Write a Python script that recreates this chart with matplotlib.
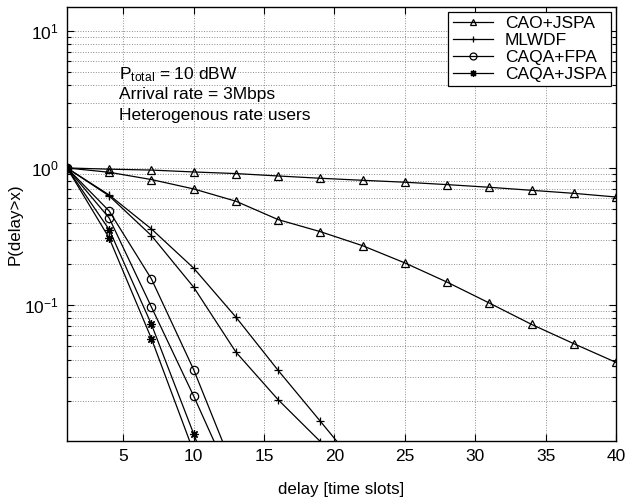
import matplotlib
matplotlib.use("Agg")

import matplotlib.pyplot as plt
from matplotlib.lines import Line2D
from matplotlib.ticker import LogLocator, NullFormatter

plt.rcParams["font.family"] = ["Liberation Sans", "DejaVu Sans"]
plt.rcParams["mathtext.fontset"] = "custom"
plt.rcParams["mathtext.rm"] = "Liberation Sans"
plt.rcParams["mathtext.it"] = "Liberation Sans:italic"

# delay points where markers are drawn (time slots)
delay_cao = [1, 4, 7, 10, 13, 16, 19, 22, 25, 28, 31, 34, 37, 40]
delay_mlwdf = [1, 4, 7, 10, 13, 16, 19, 22]
delay_caqa = [1, 4, 7, 10, 13]

# P(delay > x), two user classes per scheme
cao_jspa_a = [1.0, 0.98, 0.965, 0.935, 0.91, 0.874, 0.841, 0.813, 0.787,
              0.756, 0.723, 0.687, 0.653, 0.614]
cao_jspa_b = [1.0, 0.93, 0.823, 0.703, 0.572, 0.420, 0.343, 0.271, 0.203,
              0.147, 0.1035, 0.0723, 0.0523, 0.0382]
mlwdf_a = [1.0, 0.635, 0.359, 0.186, 0.0817, 0.0334, 0.0142, 0.006]
mlwdf_b = [1.0, 0.625, 0.321, 0.135, 0.0454, 0.0204, 0.0101, 0.0047]
caqa_fpa_a = [1.0, 0.485, 0.155, 0.0338, 0.0058]
caqa_fpa_b = [1.0, 0.431, 0.0967, 0.0217, 0.0045]
caqa_jspa_a = [1.0, 0.355, 0.0723, 0.0115, 0.0018]
caqa_jspa_b = [1.0, 0.308, 0.0569, 0.0085, 0.0013]

legend_labels = ["CAO+JSPA", "MLWDF", "CAQA+FPA", "CAQA+JSPA"]
x_ticks = [5, 10, 15, 20, 25, 30, 35, 40]
y_ticks = [1e-1, 1e0, 1e1]

ASTERISK = (8, 2, 0)
FS = 12.5


def main() -> None:
    fig = plt.figure(figsize=(6.44, 5.04), dpi=100)
    ax = fig.add_axes([0.104, 0.125, 0.8525, 0.8617])

    style = dict(color="black", linewidth=0.9, markersize=6,
                 markerfacecolor="none", markeredgewidth=0.9)

    series = [
        (delay_cao, cao_jspa_a, "^"),
        (delay_cao, cao_jspa_b, "^"),
        (delay_mlwdf, mlwdf_a, "+"),
        (delay_mlwdf, mlwdf_b, "+"),
        (delay_caqa, caqa_fpa_a, "o"),
        (delay_caqa, caqa_fpa_b, "o"),
        (delay_caqa, caqa_jspa_a, ASTERISK),
        (delay_caqa, caqa_jspa_b, ASTERISK),
    ]
    for x, y, m in series:
        ax.plot(x, y, marker=m, **style)

    ax.set_yscale("log")
    ax.set_xlim(1, 40)
    ax.set_ylim(0.0102, 15)
    ax.set_xticks(x_ticks)
    ax.set_yticks(y_ticks)
    ax.yaxis.set_minor_locator(LogLocator(base=10, subs=range(2, 10)))
    ax.yaxis.set_minor_formatter(NullFormatter())

    ax.tick_params(which="both", direction="in", top=True, right=True,
                   labelsize=FS, width=0.8)
    ax.tick_params(which="major", length=5, pad=6)
    ax.tick_params(which="minor", length=3)
    for sp in ax.spines.values():
        sp.set_linewidth(1.0)

    ax.grid(True, which="major", linestyle=":", color="0.55", linewidth=0.7)
    ax.grid(True, which="minor", axis="y", linestyle=":", color="0.55",
            linewidth=0.7)

    ax.set_xlabel("delay [time slots]", fontsize=12.2, labelpad=13)
    ax.set_ylabel("P(delay>x)", fontsize=12.2, labelpad=1)

    ax.text(0.095, 0.833, r"P$_{\mathrm{total}}$ = 10 dBW",
            transform=ax.transAxes, fontsize=FS, va="baseline")
    ax.text(0.095, 0.787, "Arrival rate = 3Mbps",
            transform=ax.transAxes, fontsize=FS, va="baseline")
    ax.text(0.095, 0.739, "Heterogenous rate users",
            transform=ax.transAxes, fontsize=FS, va="baseline")

    handles = [
        Line2D([], [], marker=m, color="black", linewidth=0.9, markersize=5,
               markerfacecolor="none", markeredgewidth=0.9)
        for m in ["^", "+", "o", ASTERISK]
    ]
    leg = ax.legend(handles, legend_labels, loc="upper right", fontsize=FS,
                    frameon=True, fancybox=False, edgecolor="black",
                    framealpha=1, borderpad=0.25, labelspacing=0.1,
                    handlelength=2.3, handletextpad=0.7,
                    borderaxespad=0.3)
    leg.get_frame().set_linewidth(0.9)

    fig.savefig("out.png", dpi=100)
    plt.close(fig)


if __name__ == "__main__":
    main()
